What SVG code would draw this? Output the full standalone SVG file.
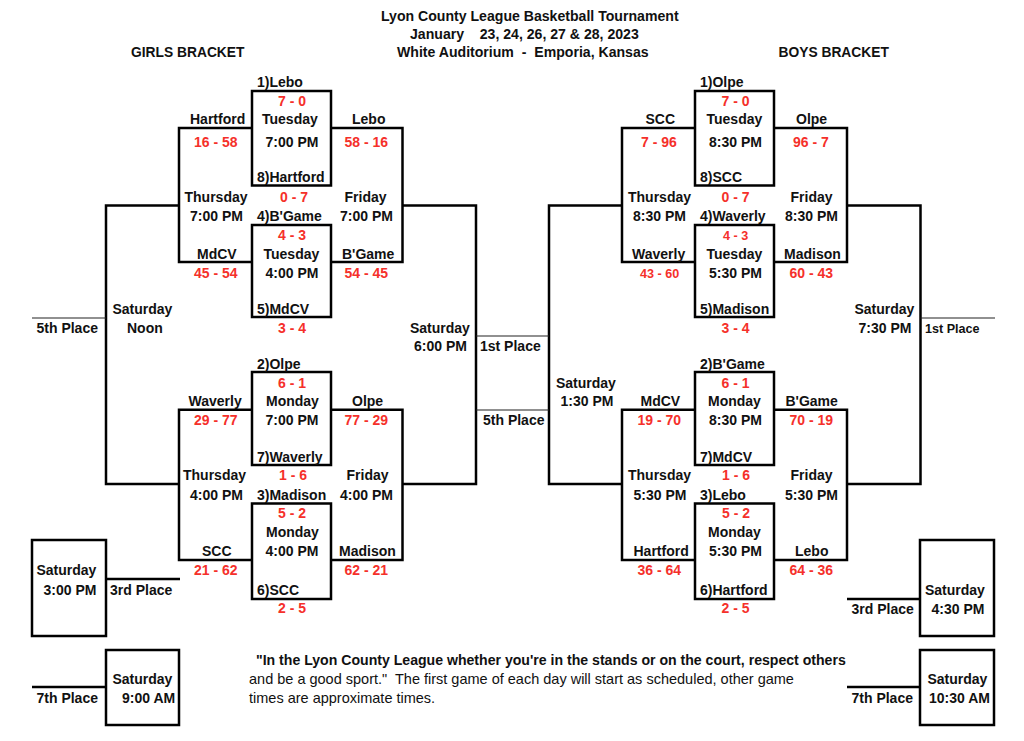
<svg xmlns="http://www.w3.org/2000/svg" width="1024" height="741" viewBox="0 0 1024 741">
<style>
text{font-family:"Liberation Sans",Arial,sans-serif;font-size:14px;font-weight:700;fill:#111;white-space:pre}
.s{fill:#f5302a}
.sm{font-size:12.6px}
.r{font-weight:400;font-size:14.5px}
.t{font-size:14.1px}
.h{font-size:13.8px}
.box{fill:none;stroke:#000;stroke-width:2.5}
.ln{fill:none;stroke:#000;stroke-width:2.5}
.th{fill:none;stroke:#222;stroke-width:1.2}
</style>
<rect width="1024" height="741" fill="#fff"/>
<g id="connectors">
<path class="ln" d="M252 128H179V262H252M331 128H402.500V262H331"/>
<path class="ln" d="M179 205.500H106V484H179M402.500 205.500H476V484H402.500"/>
<path class="ln" d="M252 409.700H179V560H252M331 409.700H402.500V560H331"/>
<path class="ln" d="M695 128H622V262H695M774 128H847V262H774"/>
<path class="ln" d="M622 205.500H549V484H622M847 205.500H920.500V484H847"/>
<path class="ln" d="M695 409.700H622V560H695M774 409.700H847V560H774"/>
<path class="th" d="M32 318H106M476 336H549M476 410H549M920.500 318H995"/>
<path class="ln" d="M106 579H180M32 687H106M847 599H920M847 687H920"/>
</g>
<g id="title">
<text class="t" x="381" y="21">Lyon County League Basketball Tournament</text>
<text class="t" x="410" y="39">January    23, 24, 26, 27 &amp; 28, 2023</text>
<text class="t" x="397" y="57">White Auditorium  -  Emporia, Kansas</text>
</g>
<g id="girls-heading"><text class="h" x="131" y="57">GIRLS BRACKET</text></g>
<g id="boys-heading"><text class="h" x="778.500" y="57">BOYS BRACKET</text></g>

<g id="girls-game-1-8">
<rect class="box" x="252" y="91" width="79" height="94.500"/>
<text x="257" y="87">1)Lebo</text><text class="s" x="278" y="106">7 - 0</text>
<text x="262" y="124">Tuesday</text><text x="265.500" y="146.500">7:00 PM</text>
<text x="257" y="182">8)Hartford</text><text class="s" x="280" y="202">0 - 7</text>
</g>
<g id="girls-game-4-5">
<rect class="box" x="252" y="225" width="79" height="92"/>
<text x="257" y="221">4)B'Game</text><text class="s" x="278" y="240">4 - 3</text>
<text x="263.500" y="258.500">Tuesday</text><text x="265.500" y="278">4:00 PM</text>
<text x="257" y="314">5)MdCV</text><text class="s" x="278" y="333">3 - 4</text>
</g>
<g id="girls-game-2-7">
<rect class="box" x="252" y="372" width="79" height="93"/>
<text x="257" y="369">2)Olpe</text><text class="s" x="278" y="388">6 - 1</text>
<text x="266" y="406">Monday</text><text x="265.500" y="425">7:00 PM</text>
<text x="257" y="462">7)Waverly</text><text class="s" x="279" y="480">1 - 6</text>
</g>
<g id="girls-game-3-6">
<rect class="box" x="252" y="503.500" width="79" height="95.500"/>
<text x="257" y="500">3)Madison</text><text class="s" x="278" y="518">5 - 2</text>
<text x="266" y="537">Monday</text><text x="265.500" y="555.500">4:00 PM</text>
<text x="257" y="595">6)SCC</text><text class="s" x="278" y="613">2 - 5</text>
</g>
<g id="girls-semi-left">
<text x="190" y="124">Hartford</text><text class="s" x="194" y="146.500">16 - 58</text>
<text x="184.500" y="202">Thursday</text><text x="190" y="221">7:00 PM</text>
<text x="197" y="258.500">MdCV</text><text class="s" x="194" y="278">45 - 54</text>
</g>
<g id="girls-semi-right">
<text x="352" y="124">Lebo</text><text class="s" x="344.500" y="146.500">58 - 16</text>
<text x="344.500" y="202">Friday</text><text x="340" y="221">7:00 PM</text>
<text x="342" y="258.500">B'Game</text><text class="s" x="344.500" y="278">54 - 45</text>
</g>
<g id="girls-lower-left">
<text x="188.500" y="406">Waverly</text><text class="s" x="194" y="425">29 - 77</text>
<text x="183" y="480">Thursday</text><text x="190" y="500">4:00 PM</text>
<text x="202" y="556">SCC</text><text class="s" x="194" y="575">21 - 62</text>
</g>
<g id="girls-lower-right">
<text x="352" y="406">Olpe</text><text class="s" x="344.500" y="425">77 - 29</text>
<text x="346.500" y="480">Friday</text><text x="340" y="500">4:00 PM</text>
<text x="339" y="556">Madison</text><text class="s" x="344.500" y="575">62 - 21</text>
</g>
<g id="girls-5th-game">
<text x="112.500" y="314">Saturday</text><text x="127" y="333">Noon</text><text x="36.500" y="333">5th Place</text>
</g>
<g id="girls-final">
<text x="410" y="333">Saturday</text><text x="414" y="351">6:00 PM</text>
<text x="480" y="351">1st Place</text><text x="483" y="425">5th Place</text>
</g>
<g id="girls-3rd-game">
<rect class="box" x="32" y="540" width="74" height="96"/>
<text x="36.500" y="575">Saturday</text><text x="43.500" y="595">3:00 PM</text><text x="110" y="595">3rd Place</text>
</g>
<g id="girls-7th-game">
<rect class="box" x="106" y="650" width="73" height="75"/>
<text x="112.500" y="684">Saturday</text><text x="122" y="703">9:00 AM</text><text x="36.500" y="703">7th Place</text>
</g>

<g id="boys-game-1-8">
<rect class="box" x="695" y="91" width="79" height="94.500"/>
<text x="700" y="87">1)Olpe</text><text class="s" x="721.500" y="106">7 - 0</text>
<text x="706.500" y="124">Tuesday</text><text x="709" y="146.500">8:30 PM</text>
<text x="700" y="182">8)SCC</text><text class="s" x="721.500" y="202">0 - 7</text>
</g>
<g id="boys-game-4-5">
<rect class="box" x="695" y="225" width="79" height="92"/>
<text x="700" y="221">4)Waverly</text><text class="s sm" x="723" y="240">4 - 3</text>
<text x="706.500" y="258.500">Tuesday</text><text x="709" y="278">5:30 PM</text>
<text x="700" y="314">5)Madison</text><text class="s" x="721.500" y="333">3 - 4</text>
</g>
<g id="boys-game-2-7">
<rect class="box" x="695" y="372" width="79" height="93"/>
<text x="700" y="369">2)B'Game</text><text class="s" x="721.500" y="388">6 - 1</text>
<text x="708" y="406">Monday</text><text x="709" y="425">8:30 PM</text>
<text x="700" y="462">7)MdCV</text><text class="s" x="722" y="480">1 - 6</text>
</g>
<g id="boys-game-3-6">
<rect class="box" x="695" y="503.500" width="79" height="95.500"/>
<text x="700" y="500">3)Lebo</text><text class="s" x="722" y="518">5 - 2</text>
<text x="708" y="537">Monday</text><text x="709" y="555.500">5:30 PM</text>
<text x="700" y="595">6)Hartford</text><text class="s" x="721.500" y="613">2 - 5</text>
</g>
<g id="boys-semi-left">
<text x="645.500" y="124">SCC</text><text class="s" x="641" y="146.500">7 - 96</text>
<text x="628" y="202">Thursday</text><text x="633" y="221">8:30 PM</text>
<text x="632" y="258.500">Waverly</text><text class="s sm" x="640" y="278">43 - 60</text>
</g>
<g id="boys-semi-right">
<text x="796" y="124">Olpe</text><text class="s" x="793" y="146.500">96 - 7</text>
<text x="790.500" y="202">Friday</text><text x="785" y="221">8:30 PM</text>
<text x="784" y="258.500">Madison</text><text class="s" x="789.500" y="278">60 - 43</text>
</g>
<g id="boys-lower-left">
<text x="640.500" y="406">MdCV</text><text class="s" x="637.500" y="425">19 - 70</text>
<text x="628" y="480">Thursday</text><text x="633.500" y="500">5:30 PM</text>
<text x="633.500" y="556">Hartford</text><text class="s" x="637.500" y="575">36 - 64</text>
</g>
<g id="boys-lower-right">
<text x="785.500" y="406">B'Game</text><text class="s" x="789.500" y="425">70 - 19</text>
<text x="790.500" y="480">Friday</text><text x="785" y="500">5:30 PM</text>
<text x="795" y="556">Lebo</text><text class="s" x="789.500" y="575">64 - 36</text>
</g>
<g id="boys-1st-game">
<text x="854.500" y="314">Saturday</text><text x="858.500" y="333">7:30 PM</text><text class="sm" x="925" y="333">1st Place</text>
</g>
<g id="boys-5th-game">
<text x="556" y="388">Saturday</text><text x="560.500" y="406">1:30 PM</text>
</g>
<g id="boys-3rd-game">
<rect class="box" x="920" y="540" width="74" height="96"/>
<text x="925" y="595">Saturday</text><text x="931.500" y="614">4:30 PM</text><text x="851.500" y="614">3rd Place</text>
</g>
<g id="boys-7th-game">
<rect class="box" x="920" y="650" width="74" height="75"/>
<text x="927.500" y="684">Saturday</text><text x="929" y="703">10:30 AM</text><text x="851.500" y="703">7th Place</text>
</g>
<g id="note">
<text style="font-size:14.1px" x="256" y="665">"In the Lyon County League whether you're in the stands or on the court, respect others</text>
<text class="r" x="249" y="684">and be a good sport."  The first game of each day will start as scheduled, other game</text>
<text class="r" x="249" y="703">times are approximate times.</text>
</g>
</svg>
